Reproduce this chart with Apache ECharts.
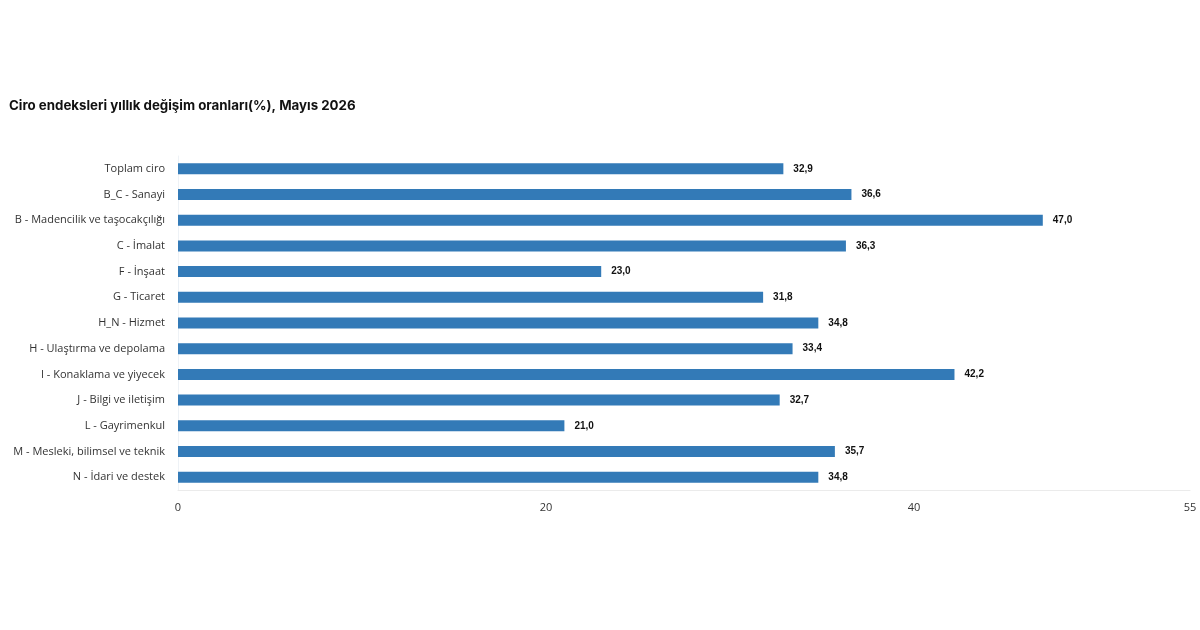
<!DOCTYPE html>
<html><head><meta charset="utf-8">
<script src="https://cdn.jsdelivr.net/npm/echarts@6/dist/echarts.min.js"></script>
<style>html,body{margin:0;padding:0;background:#fff}#c{width:1200px;height:630px}</style>
</head><body><div id="c"></div>
<script>
const categories = ["Toplam ciro","B_C - Sanayi","B - Madencilik ve taşocakçılığı","C - İmalat","F - İnşaat","G - Ticaret","H_N - Hizmet","H - Ulaştırma ve depolama","I - Konaklama ve yiyecek","J - Bilgi ve iletişim","L - Gayrimenkul","M - Mesleki, bilimsel ve teknik","N - İdari ve destek"];
const values = [32.9,36.6,47.0,36.3,23.0,31.8,34.8,33.4,42.2,32.7,21.0,35.7,34.8];
const titleText = "Ciro endeksleri yıllık değişim oranları(%), Mayıs 2026";
const chart = echarts.init(document.getElementById('c'), null, {renderer:'canvas'});
chart.setOption({
  animation:false,
  title:{text:titleText,left:4,top:94,textStyle:{fontFamily:'Inter',fontSize:13.3,fontWeight:'bold',color:'#111'}},
  grid:{left:178,right:10,top:156,bottom:140,containLabel:false},
  xAxis:{type:'value',min:0,max:55,interval:20,
    axisLine:{show:true,lineStyle:{color:'#ebebeb'}},axisTick:{show:false},splitLine:{show:false},
    axisLabel:{color:'#333',fontFamily:'Open Sans',fontSize:11,margin:12}},
  yAxis:{type:'category',data:categories,inverse:true,
    axisLine:{show:true,lineStyle:{color:'#eef2f6'}},axisTick:{show:false},
    axisLabel:{color:'#333',fontFamily:'Open Sans',fontSize:11,margin:13}},
  series:[{type:'bar',data:values,barWidth:11,itemStyle:{color:'#337ab7'},
    label:{show:true,position:'right',distance:10,color:'#111',fontFamily:'Liberation Sans',fontWeight:'bold',fontSize:10,
      formatter:p=>p.value.toFixed(1).replace('.',',')}}]
});
</script></body></html>
